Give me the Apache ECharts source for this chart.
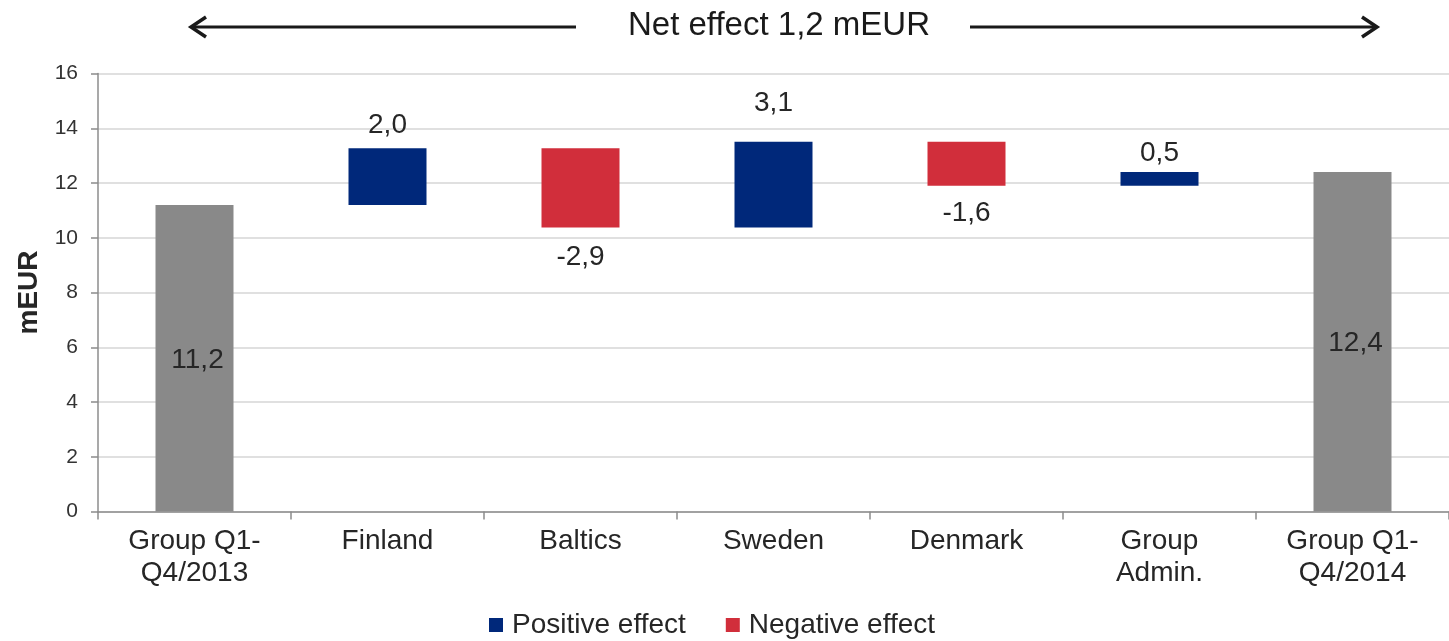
<!DOCTYPE html>
<html>
<head>
<meta charset="utf-8">
<script src="https://cdn.jsdelivr.net/npm/echarts@6/dist/echarts.min.js"></script>
<style>
  html, body { margin: 0; padding: 0; background: #fff; }
  #chart { width: 1449px; height: 641px; }
</style>
</head>
<body>
<div id="chart"></div>
<script>
// categories along the x axis
const categories = ['Group Q1-\nQ4/2013', 'Finland', 'Baltics', 'Sweden', 'Denmark', 'Group\nAdmin.', 'Group Q1-\nQ4/2014']
// opening and closing totals (mEUR)
const startTotal = 11.2
const endTotal = 12.4
// changes per segment, as drawn (mEUR)
const changes = [2.07, -2.9, 3.14, -1.61, 0.5]
// labels printed next to the change bars
const changeLabels = ['2,0', '-2,9', '3,1', '-1,6', '0,5']
const yTicks = { min: 0, max: 16, interval: 2 }

const FONT = 'Liberation Sans, Arial, sans-serif'
const TEXT = '#262626'
const POS = '#00287a'
const NEG = '#d12e3b'
const TOTAL = '#898989'

// build the waterfall stacks
const base = ['-']
const pos = ['-']
const neg = ['-']
let level = startTotal
changes.forEach((c, i) => {
  const next = level + c
  base.push(Math.min(level, next))
  if (c >= 0) {
    pos.push({ value: c, label: changeLabels[i] })
    neg.push('-')
  } else {
    neg.push({ value: -c, label: changeLabels[i] })
    pos.push('-')
  }
  level = next
})
base.push('-')
const totals = [startTotal, '-', '-', '-', '-', '-', endTotal]

// Excel nudged some labels further away from their bars
const labelGap = { Finland: 9, Baltics: 16, Sweden: 24, Denmark: 14, 'Group\nAdmin.': 5 }

function changeSeriesData(arr) {
  return arr.map((d, i) => {
    if (d === '-') return d
    return {
      value: d.value,
      label: { distance: labelGap[categories[i]] || 10, formatter: d.label }
    }
  })
}

const chart = echarts.init(document.getElementById('chart'))
chart.setOption({
  animation: false,
  textStyle: { fontFamily: FONT },
  grid: { left: 98, right: -16, top: 73.5, bottom: 129.5 },
  legend: {
    data: ['Positive effect', 'Negative effect'],
    left: 484,
    top: 606,
    itemWidth: 14,
    itemHeight: 14,
    itemGap: 40,
    icon: 'rect',
    textStyle: { fontSize: 28, color: TEXT, fontFamily: FONT, padding: [0, 0, 0, 4] }
  },
  xAxis: {
    type: 'category',
    data: categories,
    axisLine: { lineStyle: { color: '#8c8c8c', width: 1.5 } },
    axisTick: { show: true, length: 8, lineStyle: { color: '#8c8c8c', width: 1.5 } },
    axisLabel: { color: TEXT, fontSize: 28, lineHeight: 32, margin: 14, fontFamily: FONT, interval: 0 }
  },
  yAxis: {
    type: 'value',
    min: yTicks.min,
    max: yTicks.max,
    interval: yTicks.interval,
    name: 'mEUR',
    nameLocation: 'middle',
    nameGap: 52,
    nameTextStyle: { fontSize: 28, fontWeight: 'bold', color: TEXT, fontFamily: FONT },
    axisLine: { show: true, lineStyle: { color: '#8c8c8c', width: 1.5 } },
    axisTick: { show: true, length: 7, lineStyle: { color: '#8c8c8c', width: 1.5 } },
    axisLabel: { color: '#333', fontSize: 21, margin: 20, fontFamily: FONT },
    splitLine: { lineStyle: { color: '#d6d6d6', width: 1.5 } }
  },
  series: [
    {
      name: 'base',
      type: 'bar',
      stack: 'w',
      barWidth: 78,
      itemStyle: { color: 'transparent' },
      data: base,
      silent: true
    },
    {
      name: 'Total',
      type: 'bar',
      stack: 'w',
      barWidth: 78,
      itemStyle: { color: TOTAL },
      label: {
        show: true,
        position: 'inside',
        fontSize: 28,
        color: TEXT,
        fontFamily: FONT,
        offset: [3, 2],
        formatter: p => p.value.toFixed(1).replace('.', ',')
      },
      data: totals
    },
    {
      name: 'Positive effect',
      type: 'bar',
      stack: 'w',
      barWidth: 78,
      itemStyle: { color: POS },
      label: { show: true, position: 'top', fontSize: 28, color: TEXT, fontFamily: FONT },
      data: changeSeriesData(pos)
    },
    {
      name: 'Negative effect',
      type: 'bar',
      stack: 'w',
      barWidth: 78,
      itemStyle: { color: NEG },
      label: { show: true, position: 'bottom', fontSize: 28, color: TEXT, fontFamily: FONT },
      data: changeSeriesData(neg)
    }
  ],
  graphic: [
    {
      type: 'text',
      left: 628,
      top: 9,
      style: { text: 'Net effect 1,2 mEUR', fontSize: 33, fill: '#1a1a1a', fontFamily: FONT }
    },
    {
      type: 'line',
      shape: { x1: 191, y1: 27, x2: 576, y2: 27 },
      style: { stroke: '#1a1a1a', lineWidth: 3 }
    },
    {
      type: 'polyline',
      shape: { points: [[206, 17], [191, 27], [206, 37]] },
      style: { stroke: '#1a1a1a', lineWidth: 3.5, fill: null }
    },
    {
      type: 'line',
      shape: { x1: 970, y1: 27, x2: 1377, y2: 27 },
      style: { stroke: '#1a1a1a', lineWidth: 3 }
    },
    {
      type: 'polyline',
      shape: { points: [[1362, 17], [1377, 27], [1362, 37]] },
      style: { stroke: '#1a1a1a', lineWidth: 3.5, fill: null }
    }
  ]
})
</script>
</body>
</html>
